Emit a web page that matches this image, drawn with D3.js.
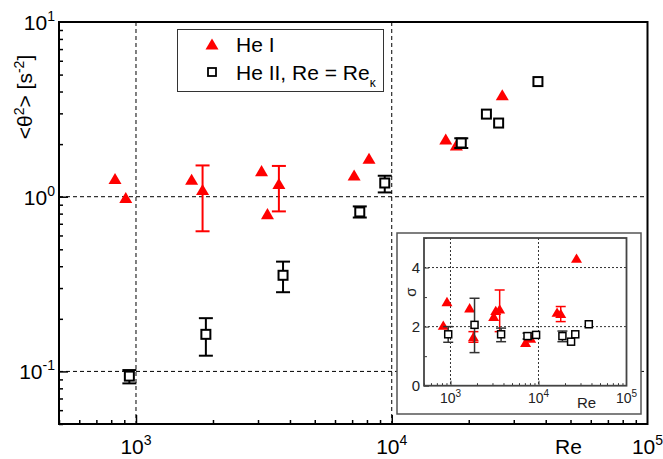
<!DOCTYPE html>
<html>
<head>
<meta charset="utf-8">
<script src="https://cdn.jsdelivr.net/npm/d3@7"></script>
<style>
  body { margin: 0; background: #fff; }
  svg { display: block; font-family: "Liberation Sans", Arial, sans-serif; }
</style>
</head>
<body>
<svg id="chart" width="663" height="459"></svg>
<script>
// He I (red triangles)
var heIRe    = [828, 912, 1650, 1821, 3097, 3266, 3620, 7127, 8150, 16260, 17890, 27050];
var heIVal   = [1.27, 0.99, 1.26, 1.10, 1.41, 0.80, 1.19, 1.33, 1.66, 2.14, 1.98, 3.83];
var heILo    = [null, null, null, 0.634, null, null, 0.824, null, null, null, null, null];
var heIHi    = [null, null, null, 1.51, null, null, 1.50, null, null, null, null, null];
// He II, Re = Re_kappa (open squares)
var heIIRe   = [942, 1876, 3758, 7499, 9390, 18700, 23450, 26180, 37290];
var heIIVal  = [0.094, 0.163, 0.355, 0.818, 1.198, 2.03, 2.97, 2.64, 4.56];
var heIILo   = [0.0854, 0.123, 0.284, 0.76, 1.058, 1.90, null, null, null];
var heIIHi   = [0.1018, 0.2017, 0.425, 0.88, 1.318, 2.16, null, null, null];
// inset: sigma
var sigI     = [2.05, 2.85, 2.64, 1.66, 2.35, 2.55, 2.60, 1.47, 1.61, 2.49, 2.45, 4.32];
var sigILo   = [null, null, null, 1.47, null, null, 1.83, null, null, null, 2.17, null];
var sigIHi   = [null, null, null, 1.83, null, null, 3.24, null, null, null, 2.68, null];
var sigII    = [1.74, 2.06, 1.74, 1.68, 1.72, 1.68, 1.49, 1.74, 2.08];
var sigIILo  = [1.47, 1.12, 1.49, 1.58, null, 1.49, null, null, null];
var sigIIHi  = [2.00, 2.96, 1.95, 1.78, null, 1.85, null, null, null];

var xDecades = [3, 4, 5];
var yDecades = [1, 0, -1];
var insetYTicks = [0, 2, 4];

var svg = d3.select("#chart");
var red = "#ff0000";

function tri(s) {
  var h = s * 0.85;
  return "M0," + (-h / 2) + "L" + (s / 2) + "," + (h / 2) + "L" + (-s / 2) + "," + (h / 2) + "Z";
}

// ---------- main plot ----------
var x = d3.scaleLog().domain([500, 1e5]).range([59, 647.5]);
var y = d3.scaleLog().domain([0.05, 10]).range([424, 22]);

var g = svg.append("g");

// dashed grid
g.selectAll(".vg").data([1e3, 1e4]).enter().append("line")
  .attr("x1", d => x(d)).attr("x2", d => x(d)).attr("y1", y(10)).attr("y2", y(0.05))
  .attr("stroke", "#000").attr("stroke-dasharray", "4,3");
g.selectAll(".hg").data([1, 0.1]).enter().append("line")
  .attr("x1", x(500)).attr("x2", x(1e5)).attr("y1", d => y(d)).attr("y2", d => y(d))
  .attr("stroke", "#000").attr("stroke-dasharray", "4,3");

// ticks (inward)
var xAxis = d3.axisTop(x).tickValues(d3.range(5, 10).map(d => d * 100)
  .concat(d3.range(1, 10).map(d => d * 1000)).concat(d3.range(1, 10).map(d => d * 10000)))
  .tickSize(0).tickFormat("");
var xt = g.append("g").attr("transform", "translate(0," + y(0.05) + ")").call(xAxis);
xt.select(".domain").remove();
xt.selectAll(".tick line").attr("y2", d => Math.abs(Math.log10(d) % 1) < 1e-9 ? -9 : -4)
  .attr("stroke", "#000").attr("stroke-width", 1.5);

var yTickVals = [0.05, 0.06, 0.07, 0.08, 0.09].concat(d3.range(1, 10).map(d => d / 10)).concat(d3.range(1, 10));
var yAxis = d3.axisRight(y).tickValues(yTickVals).tickSize(0).tickFormat("");
var yt = g.append("g").attr("transform", "translate(" + x(500) + ",0)").call(yAxis);
yt.select(".domain").remove();
yt.selectAll(".tick line").attr("x2", d => Math.abs(Math.log10(d) - Math.round(Math.log10(d))) < 1e-9 ? 9 : 4)
  .attr("stroke", "#000").attr("stroke-width", 1.5);

// tick labels
xDecades.forEach(function (e) {
  var t = g.append("text").attr("x", x(Math.pow(10, e))).attr("y", 454)
    .attr("text-anchor", "middle").attr("font-size", 21);
  t.append("tspan").text("10");
  t.append("tspan").attr("dy", -9).attr("font-size", 14).text(e);
});
yDecades.forEach(function (e) {
  var t = g.append("text").attr("x", 55).attr("y", y(Math.pow(10, e)) + 8)
    .attr("text-anchor", "end").attr("font-size", 21);
  t.append("tspan").text("10");
  t.append("tspan").attr("dy", -9).attr("font-size", 14).text(e < 0 ? "-" + (-e) : e);
});

// axis titles
g.append("text").attr("x", 555).attr("y", 454).attr("font-size", 21).text("Re");
var yl = g.append("text").attr("transform", "translate(32,97) rotate(-90)")
  .attr("text-anchor", "middle").attr("font-size", 21);
yl.append("tspan").text("<\u03b8");
yl.append("tspan").attr("dy", -8).attr("font-size", 14).text("2");
yl.append("tspan").attr("dy", 8).text("> [s");
yl.append("tspan").attr("dy", -8).attr("font-size", 14).text("-2");
yl.append("tspan").attr("dy", 8).text("]");

// error bars
function errBars(sel, xs, lo, hi, xs_, ys_, color, cap, sw) {
  xs.forEach(function (r, i) {
    if (lo[i] == null) return;
    var cx = xs_(r), y0 = ys_(lo[i]), y1 = ys_(hi[i]);
    sel.append("line").attr("x1", cx).attr("x2", cx).attr("y1", y0).attr("y2", y1)
      .attr("stroke", color).attr("stroke-width", sw);
    [y0, y1].forEach(function (yy) {
      sel.append("line").attr("x1", cx - cap / 2).attr("x2", cx + cap / 2).attr("y1", yy).attr("y2", yy)
        .attr("stroke", color).attr("stroke-width", sw);
    });
  });
}

errBars(g, heIRe, heILo, heIHi, x, y, red, 14, 2);
g.selectAll(".t1").data(heIRe).enter().append("path")
  .attr("d", tri(13)).attr("fill", red)
  .attr("transform", (d, i) => "translate(" + x(d) + "," + y(heIVal[i]) + ")");
errBars(g, heIIRe, heIILo, heIIHi, x, y, "#000", 14, 2);
g.selectAll(".s1").data(heIIRe).enter().append("rect")
  .attr("x", d => x(d) - 4.5).attr("y", (d, i) => y(heIIVal[i]) - 4.5)
  .attr("width", 9).attr("height", 9).attr("fill", "#fff").attr("stroke", "#000").attr("stroke-width", 2);

// frame
g.append("rect").attr("x", x(500)).attr("y", y(10)).attr("width", x(1e5) - x(500)).attr("height", y(0.05) - y(10))
  .attr("fill", "none").attr("stroke", "#000").attr("stroke-width", 2);

// legend
var lg = g.append("g");
lg.append("rect").attr("x", 177.5).attr("y", 29.5).attr("width", 206).attr("height", 62)
  .attr("fill", "#fff").attr("stroke", "#333").attr("stroke-width", 1);
lg.append("path").attr("d", tri(13)).attr("fill", red).attr("transform", "translate(212,44)");
lg.append("text").attr("x", 236).attr("y", 52).attr("font-size", 21).text("He I");
lg.append("rect").attr("x", 208).attr("y", 68).attr("width", 8).attr("height", 8)
  .attr("fill", "#fff").attr("stroke", "#000").attr("stroke-width", 1.8);
var lt = lg.append("text").attr("x", 236).attr("y", 80).attr("font-size", 21);
lt.append("tspan").text("He II, Re = Re");
lt.append("tspan").attr("dy", 7).attr("font-size", 12).text("\u03ba");

// ---------- inset ----------
var ig = svg.append("g");
ig.append("rect").attr("x", 397).attr("y", 233).attr("width", 244).attr("height", 181)
  .attr("fill", "#fff").attr("stroke", "#555").attr("stroke-width", 1.5);

var xi = d3.scaleLog().domain([500, 1e5]).range([424, 626.5]);
var yi = d3.scaleLinear().domain([0, 5]).range([385.7, 238]);

ig.selectAll(".ivg").data([1e3, 1e4]).enter().append("line")
  .attr("x1", d => xi(d)).attr("x2", d => xi(d)).attr("y1", yi(5)).attr("y2", yi(0))
  .attr("stroke", "#333").attr("stroke-dasharray", "2,2");
ig.selectAll(".ihg").data([2, 4]).enter().append("line")
  .attr("x1", xi(500)).attr("x2", xi(1e5)).attr("y1", d => yi(d)).attr("y2", d => yi(d))
  .attr("stroke", "#333").attr("stroke-dasharray", "2,2");

var ixt = ig.append("g").attr("transform", "translate(0," + yi(0) + ")")
  .call(d3.axisTop(xi).tickValues(xAxis.tickValues()).tickSize(0).tickFormat(""));
ixt.select(".domain").remove();
ixt.selectAll(".tick line").attr("y2", d => Math.abs(Math.log10(d) % 1) < 1e-9 ? -5 : -2.5)
  .attr("stroke", "#333").attr("stroke-width", 1);
var iyt = ig.append("g").attr("transform", "translate(" + xi(500) + ",0)")
  .call(d3.axisRight(yi).tickValues([0, 1, 2, 3, 4, 5]).tickSize(0).tickFormat(""));
iyt.select(".domain").remove();
iyt.selectAll(".tick line").attr("x2", d => d % 2 === 0 ? 5 : 3).attr("stroke", "#333").attr("stroke-width", 1);

insetYTicks.forEach(function (v) {
  ig.append("text").attr("x", 420).attr("y", yi(v) + 5.5).attr("text-anchor", "end")
    .attr("font-size", 15).attr("fill", "#222").text(v);
});
xDecades.forEach(function (e) {
  var t = ig.append("text").attr("x", xi(Math.pow(10, e))).attr("y", 403)
    .attr("text-anchor", "middle").attr("font-size", 14).attr("fill", "#222");
  t.append("tspan").text("10");
  t.append("tspan").attr("dy", -6).attr("font-size", 10).text(e);
});
ig.append("text").attr("x", 577).attr("y", 408).attr("font-size", 15).attr("fill", "#222").text("Re");
ig.append("text").attr("transform", "translate(416,292) rotate(-90)").attr("text-anchor", "middle")
  .attr("font-size", 15).attr("fill", "#222").text("\u03c3");

errBars(ig, heIRe, sigILo, sigIHi, xi, yi, red, 10, 1.5);
ig.selectAll(".t2").data(heIRe).enter().append("path")
  .attr("d", tri(11)).attr("fill", red)
  .attr("transform", (d, i) => "translate(" + xi(d) + "," + yi(sigI[i]) + ")");
errBars(ig, heIIRe, sigIILo, sigIIHi, xi, yi, "#333", 10, 1.5);
ig.selectAll(".s2").data(heIIRe).enter().append("rect")
  .attr("x", d => xi(d) - 3.5).attr("y", (d, i) => yi(sigII[i]) - 3.5)
  .attr("width", 7).attr("height", 7).attr("fill", "#fff").attr("stroke", "#000").attr("stroke-width", 1.5);

ig.append("rect").attr("x", xi(500)).attr("y", yi(5)).attr("width", xi(1e5) - xi(500)).attr("height", yi(0) - yi(5))
  .attr("fill", "none").attr("stroke", "#444").attr("stroke-width", 1.8);
</script>
</body>
</html>
